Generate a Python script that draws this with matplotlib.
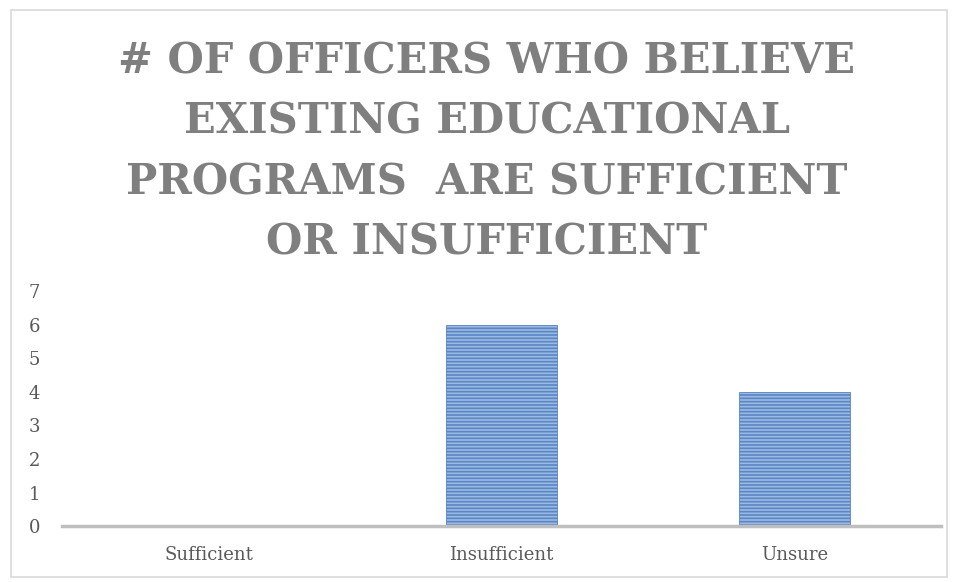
import matplotlib.pyplot as plt
from matplotlib.patches import Rectangle

# data
categories = ['Sufficient', 'Insufficient', 'Unsure']
officers = [0, 6, 4]
title = '# OF OFFICERS WHO BELIEVE\nEXISTING EDUCATIONAL\nPROGRAMS  ARE SUFFICIENT\nOR INSUFFICIENT'

plt.rcParams['font.family'] = ['DejaVu Serif']
plt.rcParams['hatch.linewidth'] = 1.2

fig = plt.figure(figsize=(9.58, 5.82), dpi=100)
# chart border
fig.patches.append(Rectangle((0.011, 0.008), 0.978, 0.975, transform=fig.transFigure,
                             fill=False, edgecolor='#d9d9d9', linewidth=1.2))

ax = fig.add_axes([0.065, 0.096, 0.917, 0.404])
ax.bar(range(len(categories)), officers, width=0.38, color='#9bbae3',
       edgecolor='#5a86c4', hatch='-----', linewidth=0.6)

ax.set_xlim(-0.5, 2.5)
ax.set_ylim(0, 7)
ax.set_yticks(range(0, 8))
ax.set_xticks(range(len(categories)))
ax.set_xticklabels(categories)
ax.tick_params(length=0, labelsize=13, colors='#595959')
ax.tick_params(axis='y', pad=16)
ax.tick_params(axis='x', pad=14)
for s in ['top', 'right', 'left']:
    ax.spines[s].set_visible(False)
ax.spines['bottom'].set_color('#bfbfbf')
ax.spines['bottom'].set_linewidth(2.5)

fig.text(0.508, 0.739, title, ha='center', va='center', fontsize=30,
         fontweight='bold', color='#7f7f7f', linespacing=1.56)

plt.savefig('out.png', dpi=100)
